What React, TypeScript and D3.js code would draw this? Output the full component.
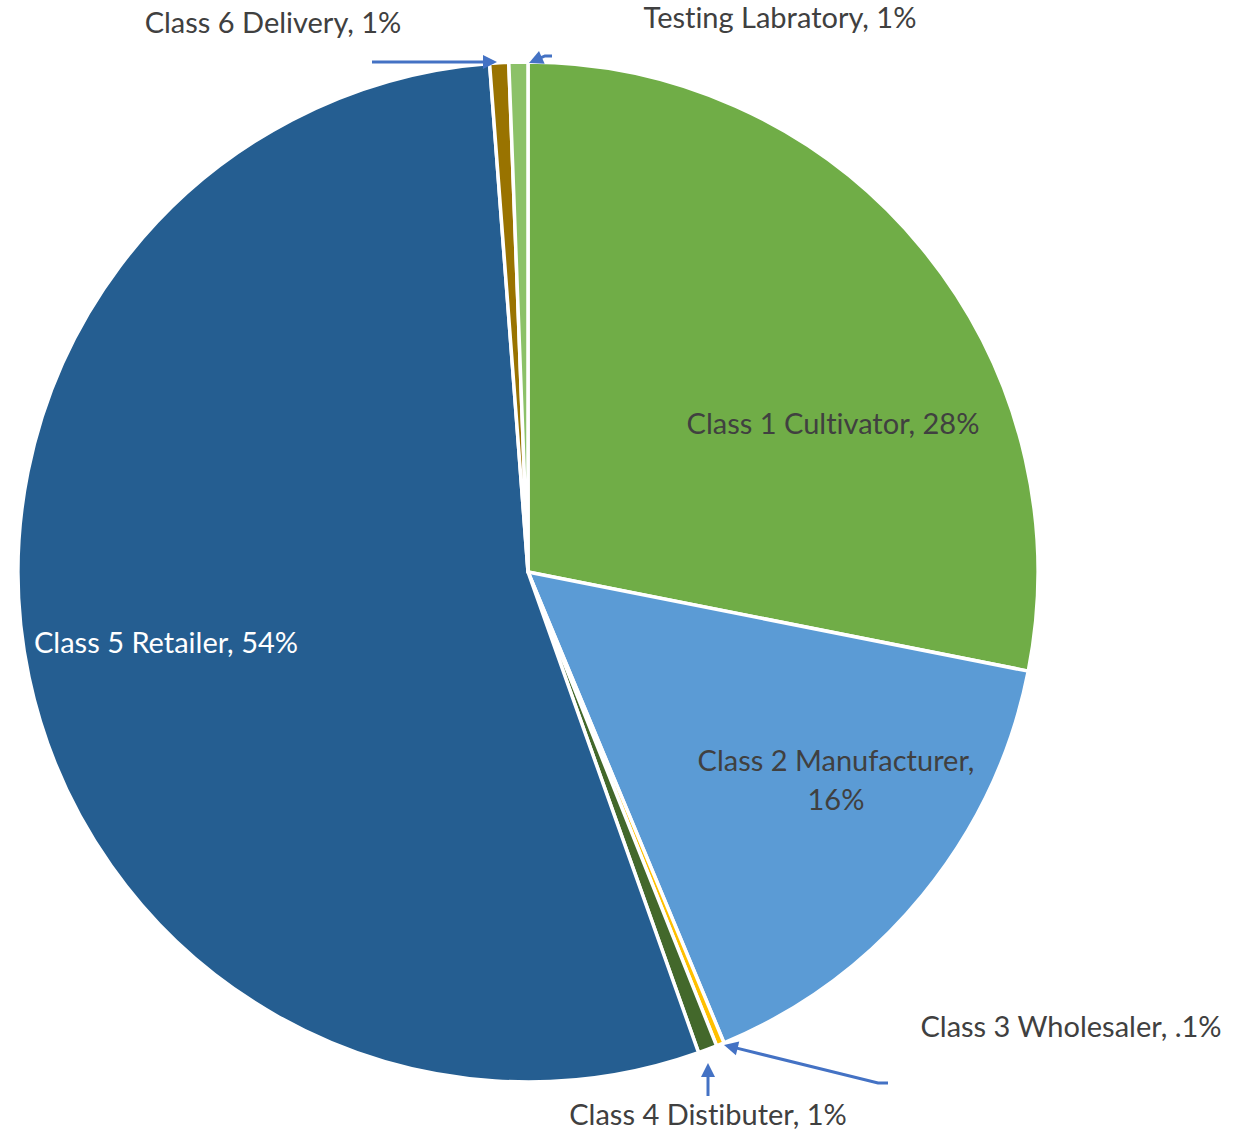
import React from "react";
import * as d3 from "d3";

const categories = [
  "Class 1 Cultivator",
  "Class 2 Manufacturer",
  "Class 3 Wholesaler",
  "Class 4 Distibuter",
  "Class 5 Retailer",
  "Class 6 Delivery",
  "Testing Labratory",
];
const values = [28.1, 15.6, 0.25, 0.6, 54.2, 0.6, 0.6];
const pctLabels = ["28%", "16%", ".1%", "1%", "54%", "1%", "1%"];
const colors = ["#70AD47", "#5B9BD5", "#FFC000", "#43682B", "#255E91", "#997300", "#8CC168"];

const W = 1246;
const H = 1132;
const cx = 528;
const cy = 572;
const R = 510;
const FONT = "Lato, 'Open Sans', sans-serif";
const FS = 29;

const labelLayout: { x: number; y: number; fill: string; split?: boolean }[] = [
  { x: 833, y: 434, fill: "#404040" },
  { x: 836, y: 771, fill: "#404040", split: true },
  { x: 1071, y: 1037, fill: "#404040" },
  { x: 708, y: 1125, fill: "#404040" },
  { x: 166, y: 653, fill: "#FFFFFF" },
  { x: 273, y: 33, fill: "#404040" },
  { x: 780, y: 28, fill: "#404040" },
];

const leaders: { idx: number; pts: [number, number][] }[] = [
  { idx: 5, pts: [[372, 62], [497, 62]] },
  { idx: 6, pts: [[552, 56], [545, 56], [529, 63]] },
  { idx: 3, pts: [[708, 1096], [708, 1063]] },
  { idx: 2, pts: [[888, 1083], [878, 1083], [724, 1045]] },
];

export default function App() {
  const pie = d3.pie<number>().sort(null).value((d) => d);
  const arcs = pie(values);
  const arcGen = d3.arc<d3.PieArcDatum<number>>().innerRadius(0).outerRadius(R);
  const lineGen = d3.line();

  const arrowHead = (p: [number, number], q: [number, number]) => {
    const ang = Math.atan2(q[1] - p[1], q[0] - p[0]);
    const L = 14;
    const Wd = 7;
    const bx = q[0] - L * Math.cos(ang);
    const by = q[1] - L * Math.sin(ang);
    const nx = -Math.sin(ang) * Wd;
    const ny = Math.cos(ang) * Wd;
    return `M${q[0]},${q[1]}L${bx + nx},${by + ny}L${bx - nx},${by - ny}Z`;
  };

  const textStyle = { fontVariantLigatures: "none" as const };

  return (
    <svg
      width={W}
      height={H}
      style={{ position: "absolute", left: 0, top: 0, background: "#fff" }}
    >
      <g transform={`translate(${cx},${cy})`}>
        {arcs.map((a, i) => (
          <path key={i} d={arcGen(a) || ""} fill={colors[i]} stroke="#fff" strokeWidth={3.5} strokeLinejoin="round" />
        ))}
      </g>
      {leaders.map((l, i) => {
        const n = l.pts.length;
        const tip = l.pts[n - 1];
        const prev = l.pts[n - 2];
        const ang = Math.atan2(tip[1] - prev[1], tip[0] - prev[0]);
        const lineEnd: [number, number] = [tip[0] - 10 * Math.cos(ang), tip[1] - 10 * Math.sin(ang)];
        const pts = [...l.pts.slice(0, n - 1), lineEnd];
        return (
          <g key={i}>
            <path d={lineGen(pts) || ""} fill="none" stroke="#4472C4" strokeWidth={3} />
            <path d={arrowHead(prev, tip)} fill="#4472C4" />
          </g>
        );
      })}
      {labelLayout.map((lb, i) => {
        const text = `${categories[i]}, ${pctLabels[i]}`;
        if (lb.split) {
          return (
            <text key={i} x={lb.x} y={lb.y} textAnchor="middle" fontFamily={FONT} fontSize={FS} fill={lb.fill} style={textStyle}>
              <tspan x={lb.x}>{`${categories[i]},`}</tspan>
              <tspan x={lb.x} dy={39}>{pctLabels[i]}</tspan>
            </text>
          );
        }
        return (
          <text key={i} x={lb.x} y={lb.y} textAnchor="middle" fontFamily={FONT} fontSize={FS} fill={lb.fill} style={textStyle}>
            {text}
          </text>
        );
      })}
    </svg>
  );
}
